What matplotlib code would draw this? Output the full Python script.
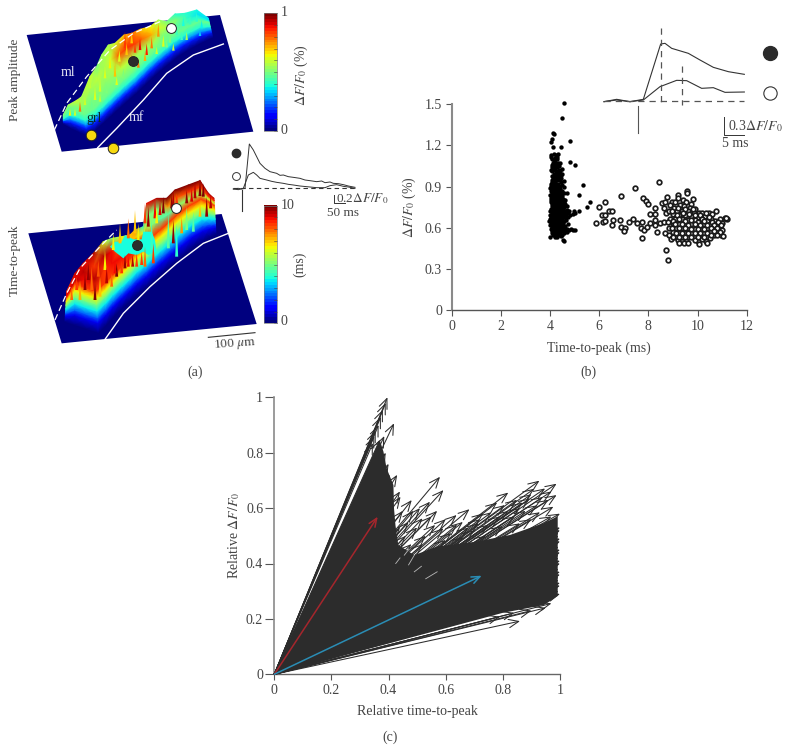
import numpy as np
import matplotlib
matplotlib.use("Agg")
import matplotlib.pyplot as plt

plt.rcParams['font.family'] = ['Liberation Serif', 'DejaVu Serif']
plt.rcParams['mathtext.fontset'] = 'stix'

TXT = '#444444'
DARK = '#2c2c2c'
W, H = 786, 751

# ---------- panel (a) top: peak amplitude (reference-crop coordinates) ----------
amp_plate_x = [80, 660, 760, 185]
amp_plate_y = [105, 45, 395, 455]
amp_front_x = [190, 215, 240, 262, 285, 310, 335, 360, 385, 410, 435, 460, 485, 510, 535, 560, 585, 610, 638]
amp_front_y = [372, 385, 397, 405, 390, 368, 345, 322, 300, 278, 254, 230, 208, 188, 168, 152, 138, 125, 112]
amp_back_x = [190, 205, 232, 245, 270, 290, 305, 325, 345, 372, 395, 420, 450, 475, 500, 525, 555, 590, 625]
amp_back_y = [345, 315, 300, 290, 230, 200, 165, 135, 130, 105, 100, 88, 80, 60, 65, 42, 40, 30, 55]
amp_near = [.45, .48, .50, .50, .50, .52, .52, .55, .58, .58, .55, .55, .55, .50, .50, .45, .42, .40, .38]
amp_mid = [.48, .50, .55, .55, .55, .58, .55, .60, .80, .86, .85, .80, .72, .60, .55, .50, .42, .35, .35]
amp_far = [.50, .55, .60, .55, .60, .50, .55, .55, .60, .70, .80, .70, .65, .55, .50, .40, .40, .38, .35]
amp_wall_val = [0, .15, .28, .40, .48]
amp_wall_off = [0, 20, 32, 45, 62]
amp_st_x = [210, 225, 240, 255, 270, 285, 300, 315, 330, 345, 358, 375, 380, 395, 405, 420, 440, 455, 475, 490, 510, 530, 550, 570, 590, 605, 560, 600,
            275, 300, 320, 350, 370, 395, 415, 435, 470, 500, 520, 545]
amp_st_y = [325, 325, 305, 290, 230, 260, 235, 200, 170, 190, 150, 95, 130, 95, 130, 115, 130, 110, 70, 105, 100, 70, 50, 45, 35, 60, 95, 90,
            300, 280, 255, 230, 205, 165, 175, 155, 140, 120, 130, 95]
amp_st_l = [22, 22, 30, 25, 35, 40, 40, 35, 35, 40, 35, 50, 35, 35, 28, 35, 35, 35, 40, 35, 28, 35, 28, 28, 30, 25, 25, 18,
            25, 25, 25, 25, 25, 30, 28, 28, 22, 22, 22, 25]
amp_st_v = [.65, .6, .78, .6, .58, .62, .6, .62, .65, .7, .62, .85, .7, .7, .85, .9, .88, .78, .75, .62, .5, .42, .38, .42, .4, .36, .55, .32,
            .48, .58, .5, .62, .5, .92, .78, .72, .6, .5, .58, .42]
amp_dash_x = [163, 200, 260, 330, 400, 480]
amp_dash_y = [390, 310, 230, 150, 100, 65]
amp_line_x = [293, 350, 430, 500, 580, 670]
amp_line_y = [443, 385, 300, 220, 165, 132]

# ---------- panel (a) bottom: time-to-peak ----------
ttp_plate_x = [85, 665, 770, 185]
ttp_plate_y = [280, 222, 552, 610]
ttp_front_x = [195, 225, 260, 295, 318, 340, 365, 390, 415, 440, 465, 490, 520, 550, 580, 610, 630, 648]
ttp_front_y = [545, 555, 567, 578, 555, 530, 505, 482, 460, 440, 418, 395, 370, 345, 320, 302, 290, 282]
ttp_back_x = [200, 225, 250, 280, 310, 335, 365, 390, 405, 430, 440, 470, 500, 525, 565, 600, 625, 642]
ttp_back_y = [455, 400, 370, 340, 305, 295, 290, 285, 270, 260, 190, 175, 175, 150, 135, 122, 160, 175]
ttp_near = [.90, .95, .90, .95, .85, .90, .90, .90, .90, .85, .55, .45, .45, .50, .55, .55, .60, .60]
ttp_mid = [.90, .90, .95, .85, .95, .90, .70, .70, .70, .60, .50, .50, .75, .80, .85, .85, .85, .85]
ttp_far = [.85, .95, .90, .95, .60, .50, .60, .70, .75, .40, .90, .95, 1.0, 1.0, 1.0, 1.0, .95, .95]
ttp_wall_val = [0, .10, .22, .36, .50, .65, .85]
ttp_wall_off = [0, 30, 45, 65, 85, 105, 125]
ttp_plateau_x = [330, 345, 365, 375, 400, 425, 430, 455, 465, 470, 445, 430, 410, 385, 370, 345]
ttp_plateau_y = [320, 305, 305, 285, 298, 298, 275, 275, 300, 335, 345, 335, 345, 340, 355, 335]
ttp_plateau_v = .38
ttp_st_x = [405, 385, 360, 415, 435, 465, 520, 600, 585, 340, 215, 240, 255, 275, 285, 300, 315, 320, 335, 350,
            445, 455, 470, 490, 505, 520, 530, 545, 560, 580, 600, 620, 560, 530, 410, 385, 365, 435, 460,
            230, 265, 295, 345, 375, 398, 425, 480, 515, 575, 610, 632]
ttp_st_y = [210, 235, 250, 250, 190, 175, 150, 118, 125, 280, 440, 420, 400, 380, 430, 410, 330, 380, 400, 370,
            200, 240, 200, 170, 215, 240, 250, 230, 200, 215, 190, 170, 150, 160, 340, 350, 360, 320, 310,
            410, 370, 360, 360, 345, 345, 335, 185, 165, 145, 130, 165]
ttp_st_l = [70, 60, 60, 60, 60, 60, 50, 50, 50, 50, 40, 60, 50, 70, 50, 60, 60, 50, 40, 40,
            60, 90, 50, 50, 110, 70, 100, 50, 70, 60, 40, 60, 40, 30, 40, 30, 40, 60, 60,
            40, 50, 50, 40, 40, 35, 40, 40, 40, 40, 40, 40]
ttp_st_v = [.7, .8, .7, .65, .85, .9, .95, 1.0, .95, .65, .8, .72, .98, .8, 1.0, .7, .65, .95, .8, 1.0,
            .98, .42, .65, 1.0, .45, .98, .4, .75, .5, .45, .7, .98, .98, .85, .85, .9, .85, .8, .85,
            .85, .98, .82, .9, .98, .95, .85, .92, .98, .92, 1.0, .95]
ttp_dash_x = [165, 200, 240, 300, 350]
ttp_dash_y = [540, 460, 385, 320, 270]
ttp_line_x = [315, 370, 450, 530, 610, 685]
ttp_line_y = [598, 520, 440, 370, 310, 280]

# ---------- panel (a) inset traces ----------
tr_big_x = [700, 715, 725, 735, 748, 760, 780, 795, 810, 830, 840, 850, 865, 880, 900, 915, 930, 950, 965, 975, 990, 1000, 1015, 1030, 1045, 1065]
tr_big_y = [147, 145, 147, 145, 12, 30, 70, 85, 95, 100, 106, 105, 110, 112, 115, 120, 122, 125, 123, 128, 126, 130, 131, 134, 138, 142]
tr_small_x = [700, 715, 730, 745, 760, 770, 780, 800, 815, 830, 850, 865, 880, 900, 920, 950, 975, 990, 1010, 1030, 1045, 1065]
tr_small_y = [147, 149, 145, 105, 97, 105, 115, 120, 124, 127, 130, 133, 135, 138, 140, 143, 143, 137, 134, 139, 141, 145]

# ---------- panel (b) inset traces ----------
ins_big_x = [612, 650, 690, 730, 782, 795, 815, 865, 900, 940, 985, 1033]
ins_big_y = [275, 268, 275, 268, 102, 100, 115, 130, 150, 172, 185, 193]
ins_small_x = [612, 650, 690, 730, 780, 830, 860, 905, 940, 975, 1033]
ins_small_y = [275, 270, 275, 270, 230, 211, 212, 235, 233, 247, 246]

# ---------- panel (b) scatter ----------
black_pts = [
 (4.58,1.512),(4.47,1.40),(4.13,1.293),(4.16,1.28),(4.07,1.245),(4.03,1.225),(4.8,1.23),(4.13,1.19),(4.43,1.19),
 (4.8,1.08),(5.02,1.056),(5.35,.91),(5.18,.838),(5.64,.785),(5.5,.748),(5.17,.72),(4.96,.725),(4.92,.70),(5.02,.71),
 (4.05,1.13),(4.15,1.14),(4.25,1.13),(4.32,1.135),(4.1,1.10),(4.2,1.11),(4.3,1.10),(4.12,1.07),(4.22,1.08),(4.32,1.07),(4.42,1.07),
 (4.08,1.04),(4.18,1.05),(4.28,1.04),(4.38,1.05),(4.48,1.03),(4.1,1.01),(4.2,1.02),(4.3,1.01),(4.4,1.01),(4.5,.99),
 (4.06,.98),(4.16,.99),(4.26,.98),(4.36,.98),(4.46,.96),(4.1,.95),(4.2,.96),(4.3,.95),(4.4,.95),(4.55,.94),
 (4.04,.92),(4.14,.93),(4.24,.92),(4.34,.92),(4.44,.93),(3.98,.89),(4.1,.90),(4.2,.89),(4.3,.89),(4.4,.89),(4.55,.90),
 (4.05,.87),(4.15,.86),(4.25,.86),(4.35,.86),(4.45,.86),(4.68,.85),(4.0,.84),(4.1,.83),(4.2,.83),(4.3,.83),(4.4,.83),(4.5,.83),
 (4.05,.80),(4.15,.80),(4.25,.80),(4.35,.80),(4.45,.80),(4.55,.79),(4.08,.77),(4.18,.77),(4.28,.77),(4.38,.77),(4.48,.77),(4.62,.77),
 (4.02,.74),(4.12,.74),(4.22,.74),(4.32,.74),(4.42,.74),(4.52,.74),(4.68,.73),(4.78,.72),(4.06,.71),(4.16,.71),(4.26,.71),(4.36,.71),(4.46,.71),(4.56,.71),(4.66,.70),
 (4.02,.68),(4.12,.68),(4.22,.68),(4.32,.68),(4.42,.68),(4.52,.68),(4.62,.68),(3.96,.65),(4.06,.65),(4.16,.65),(4.26,.65),(4.36,.65),(4.46,.65),(4.58,.65),
 (4.0,.62),(4.1,.62),(4.2,.62),(4.3,.62),(4.4,.62),(4.5,.62),(4.62,.61),(4.05,.59),(4.15,.59),(4.25,.59),(4.35,.59),(4.48,.59),(4.6,.585),(4.78,.585),(4.92,.58),(5.02,.58),
 (4.08,.56),(4.18,.56),(4.28,.56),(4.42,.56),(4.55,.56),(4.7,.57),(4.01,.535),(4.2,.535),(4.3,.53),(4.46,.54),(4.52,.51),(4.55,.50),
 (4.05,1.115),(4.17,1.095),(4.27,1.115),(4.07,1.06),(4.17,1.07),(4.27,1.06),(4.37,1.02),(4.05,1.02),(4.15,1.03),(4.25,1.0),(4.35,1.0),(4.45,.985),
 (4.12,.97),(4.22,.94),(4.32,.97),(4.42,.97),(4.08,.935),(4.18,.91),(4.28,.905),(4.38,.905),(4.48,.91),(4.02,.905),(4.12,.875),(4.22,.875),(4.32,.875),(4.42,.875),(4.5,.87),
 (4.06,.85),(4.16,.845),(4.26,.845),(4.36,.845),(4.46,.845),(4.55,.85),(4.02,.815),(4.12,.815),(4.22,.815),(4.32,.815),(4.42,.815),(4.52,.81),(4.62,.80),
 (4.02,.785),(4.12,.785),(4.22,.785),(4.32,.785),(4.42,.785),(4.52,.77),(4.07,.755),(4.17,.755),(4.27,.755),(4.37,.755),(4.47,.755),(4.57,.75),(4.7,.76),
 (4.0,.725),(4.1,.725),(4.2,.725),(4.3,.725),(4.4,.725),(4.5,.725),(4.6,.72),(4.72,.71),(4.82,.69),(3.98,.695),(4.08,.695),(4.18,.695),(4.28,.695),(4.38,.695),(4.48,.695),(4.58,.695),(4.72,.68),
 (4.0,.665),(4.1,.665),(4.2,.665),(4.3,.665),(4.4,.665),(4.5,.665),(4.65,.655),(4.02,.635),(4.12,.635),(4.22,.635),(4.32,.635),(4.42,.635),(4.54,.635),(4.72,.63),
 (4.06,.605),(4.16,.605),(4.26,.605),(4.36,.605),(4.46,.605),(4.56,.6),(4.1,.575),(4.2,.575),(4.3,.575),(4.4,.575),(4.52,.575),(4.68,.59),(4.85,.59),(4.12,.55),(4.24,.55),(4.36,.55),(4.5,.55),
]
open_pts = [
 (5.86,.632),(6.01,.754),(6.24,.785),(6.1,.693),(6.24,.695),(6.14,.644),(6.53,.62),(6.41,.722),(6.53,.722),(6.57,.656),(6.24,.651),(6.85,.656),(6.89,.834),
 (6.89,.603),(7.05,.596),(7.0,.578),(7.44,.888),(7.21,.639),(7.39,.661),(7.55,.632),(7.69,.6),(7.75,.644),(7.75,.528),(7.84,.584),(7.93,.608),(7.8,.815),(7.89,.797),(8.0,.773),
 (8.07,.70),(8.07,.632),(8.27,.746),(8.27,.70),(8.27,.656),(8.27,.62),(8.34,.566),(8.48,.632),(8.62,.644),(8.54,.778),(8.68,.79),(8.77,.821),(8.62,.741),(8.71,.705),(8.68,.56),(8.71,.438),(8.81,.365),(8.43,.931),
 (9.56,.87),(9.56,.85),(9.22,.84),(9.8,.81),(9.2,.815),(9.4,.80),(8.95,.79),(9.1,.785),(9.55,.785),(9.75,.775),(9.3,.765),(8.9,.765),(9.45,.755),(9.7,.745),(9.05,.745),(9.9,.74),
 (8.85,.725),(9.15,.72),(9.35,.72),(9.6,.72),(9.85,.71),(10.05,.71),(10.2,.71),(10.45,.71),(10.75,.72),(9.0,.70),(9.25,.69),(9.5,.69),(9.75,.685),(10.0,.68),(10.3,.685),(10.55,.665),
 (8.9,.665),(9.1,.665),(9.38,.66),(9.62,.655),(9.88,.655),(10.12,.65),(10.4,.65),(10.7,.65),(10.9,.665),(11.1,.67),(11.2,.66),(11.15,.67),(8.8,.64),(9.02,.635),(9.25,.63),(9.5,.625),(9.75,.625),(10.0,.62),(10.25,.625),(10.52,.625),(10.8,.63),(11.0,.635),
 (8.85,.60),(9.12,.60),(9.38,.595),(9.62,.595),(9.88,.59),(10.12,.59),(10.4,.595),(10.65,.60),(10.9,.605),(9.0,.57),(9.25,.565),(9.5,.565),(9.75,.56),(10.0,.56),(10.25,.565),(10.55,.57),(10.8,.575),(11.0,.585),
 (8.85,.545),(9.12,.535),(9.38,.535),(9.62,.535),(9.88,.53),(10.12,.535),(10.4,.53),(10.65,.545),(10.95,.55),(11.02,.54),(8.92,.515),(9.2,.51),(9.55,.505),(10.0,.505),(10.35,.505),(10.5,.525),
 (9.25,.49),(9.45,.485),(9.6,.485),(10.05,.48),(10.4,.49),(9.9,.51),(10.2,.515),
 (8.98,.725),(9.22,.745),(9.5,.74),(9.8,.735),(10.1,.69),(10.35,.71),(10.6,.70),(9.18,.69),(9.4,.705),(9.65,.70),(9.9,.69),(10.2,.665),(10.45,.68),(10.85,.645),
 (9.0,.65),(9.25,.66),(9.5,.65),(9.75,.655),(10.0,.645),(10.27,.65),(10.6,.64),(10.95,.62),(9.1,.625),(9.38,.63),(9.62,.62),(9.88,.625),(10.12,.62),(10.4,.62),(10.68,.62),
 (8.98,.60),(9.25,.595),(9.5,.60),(9.75,.59),(10.0,.59),(10.27,.59),(10.55,.60),(10.78,.60),(9.12,.565),(9.38,.565),(9.62,.56),(9.88,.56),(10.12,.56),(10.4,.565),(10.68,.575),(10.9,.57),
 (9.0,.535),(9.25,.535),(9.5,.53),(9.75,.53),(10.0,.53),(10.25,.535),(10.55,.545),(10.8,.55),
]

# ---------- panel (c) ----------
solid_x = [0, .369, .382, .393, .417, .419, .424, .434, .49, .568, .708, .825, .941, .992, .992, .992, .944, .80, 0]
solid_y = [0, .846, .804, .744, .683, .599, .539, .467, .43, .461, .479, .503, .545, .57, .533, .283, .25, .222, 0]
tip_pts = [
 (.396,1.0),(.373,.93),(.419,.906),(.355,.88),(.369,.846),(.39,.80),(.385,.86),(.40,.76),(.405,.72),(.415,.69),(.39,.98),(.38,.955),(.365,.90),(.35,.86),(.345,.835),
 (.58,.713),(.592,.665),(.481,.629),(.442,.641),(.545,.623),(.519,.563),(.487,.59),(.563,.539),(.683,.596),(.638,.575),(.819,.656),(.78,.62),
 (.928,.699),(.988,.688),(.948,.671),(.988,.647),(.977,.605),(.895,.635),(.807,.611),(.732,.581),(.592,.527),(.66,.55),(.715,.545),(.76,.585),(.86,.60),(.90,.65),(.96,.63),
 (.45,.59),(.47,.55),(.50,.53),(.53,.50),(.44,.53),(.46,.50),(.62,.51),(.70,.52),(.75,.54),(.84,.57),(.88,.59),(.92,.61),(1.0,.58),(.99,.55),
 (.51,.60),(.55,.57),(.57,.59),(.60,.56),(.64,.54),(.68,.53),(.72,.56),(.79,.57),(.82,.59),(.85,.63),(.87,.62),(.91,.67),(.94,.64),(.97,.66),(.93,.585),(.97,.57),(.90,.56),(.86,.545),(.80,.535),(.74,.50),(.66,.495),(.60,.485),(.52,.47),(.48,.47),
 (1.0,.53),(.995,.51),(1.0,.49),(.99,.47),(1.0,.45),(.995,.43),(1.0,.41),(.99,.39),(1.0,.37),(.995,.35),(1.0,.33),(.99,.31),(1.0,.29),
 (1.0,.52),(.995,.50),(1.0,.48),(.995,.46),(1.0,.44),(.995,.42),(1.0,.40),(.995,.38),(1.0,.36),(.995,.34),(1.0,.32),(.995,.30),
 (.97,.256),(.95,.24),(.86,.192),(.79,.208),(.90,.23),(.84,.222),(.43,.72),(.44,.66),
]
white_x0 = [.425, .455, .47, .49, .53]
white_y0 = [.40, .43, .395, .37, .345]
white_x1 = [.44, .47, .49, .515, .57]
white_y1 = [.42, .45, .43, .39, .37]
red_tip = (.362, .569)
blue_tip = (.726, .356)

# ---------- figure ----------
fig = plt.figure(figsize=(W/100, H/100), dpi=100)
fig.patch.set_facecolor('white')


def px_axes(x0, y0, x1, y1, **kw):
    return fig.add_axes([x0/W, 1 - y1/H, (x1-x0)/W, (y1-y0)/H], **kw)


def overlay(x0, y0, x1, y1):
    a = px_axes(x0, y0, x1, y1)
    a.set_xlim(0, (x1-x0)*3)
    a.set_ylim((y1-y0)*3, 0)
    a.axis('off')
    a.patch.set_alpha(0)
    return a


def ridge(a, fx, fy, bx, by, near, mid, far, wall_val, wall_off):
    fx, fy, bx, by = map(np.asarray, (fx, fy, bx, by))
    L = np.hypot(bx-fx, by-fy)
    ux, uy = (bx-fx)/L, (by-fy)/L
    wall_total = wall_off[-1]
    X, Y, C = [], [], []
    for i in range(len(fx)):
        k = min(1.0, .8*L[i]/wall_total)
        off = [o*k for o in wall_off]
        rem = L[i] - off[-1]
        off = off + [off[-1]+rem*.33, off[-1]+rem*.66, L[i]]
        X.append([fx[i]+ux[i]*o for o in off])
        Y.append([fy[i]+uy[i]*o for o in off])
        C.append(list(wall_val) + [near[i], mid[i], far[i]])
    a.pcolormesh(np.array(X), np.array(Y), np.array(C), shading='gouraud', cmap='jet', vmin=0, vmax=1, zorder=2)


def streaks(a, sx, sy, sl, sv, w=4):
    for x, y, l, v in zip(sx, sy, sl, sv):
        a.fill([x-w, x, x+w], [y+l, y, y+l], color=plt.cm.jet(v), lw=0, zorder=3)


def cbar(a, x0, x1, y0, y1):
    a.imshow(np.linspace(1, 0, 40)[:, None], extent=(x0, x1, y1, y0), cmap='jet', vmin=0, vmax=1,
             aspect='auto', zorder=2, interpolation='nearest')
    for f in np.arange(0, 1.01, .1):
        y = y1 + (y0-y1)*f
        a.plot([x1-9, x1], [y, y], color='#444444', lw=.4, zorder=3)
    a.plot([x0, x1, x1, x0, x0], [y0, y0, y1, y1, y0], color='#777777', lw=.5, zorder=3)


def dot(a, x, y, fc, r=58):
    a.scatter([x], [y], s=r, facecolor=fc, edgecolor='#222222', linewidth=.7, zorder=5)


ov1 = overlay(0, 0, 300, 190)
ov1.fill(amp_plate_x, amp_plate_y, color='#00007f', lw=0, zorder=1)
ridge(ov1, amp_front_x, amp_front_y, amp_back_x, amp_back_y, amp_near, amp_mid, amp_far,
      amp_wall_val, amp_wall_off)
streaks(ov1, amp_st_x, amp_st_y, amp_st_l, amp_st_v)
ov1.plot(amp_dash_x, amp_dash_y, color='white', lw=.9, ls=(0, (5, 3)), zorder=4)
ov1.plot(amp_line_x, amp_line_y, color='white', lw=1.0, zorder=4)
ov1.text(205, 218, 'ml', color='white', fontsize=10, ha='center', va='center', zorder=6, alpha=.9)
ov1.text(282, 355, 'grl', color='#0a2a20', fontsize=10, ha='center', va='center', zorder=6)
ov1.text(410, 352, 'mf', color='white', fontsize=10, ha='center', va='center', zorder=6, alpha=.9)
dot(ov1, 272, 405, '#f7d90f')
dot(ov1, 338, 443, '#f7d90f')
dot(ov1, 400, 182, '#2b2b2b', 50)
dot(ov1, 512, 83, 'white', 50)
cbar(ov1, 793, 832, 40, 393)
ov1.set_xlim(0, 900); ov1.set_ylim(570, 0)
ov1.text(852, 38, '1', color=TXT, fontsize=10, ha='center', va='center')
ov1.text(852, 392, '0', color=TXT, fontsize=10, ha='center', va='center')
ov1.text(45, 240, 'Peak amplitude', color=TXT, fontsize=9.5, rotation=90, ha='center', va='center')

ov2 = overlay(0, 140, 400, 390)
ov2.fill(ttp_plate_x, ttp_plate_y, color='#00007f', lw=0, zorder=1)
ridge(ov2, ttp_front_x, ttp_front_y, ttp_back_x, ttp_back_y, ttp_near, ttp_mid, ttp_far,
      ttp_wall_val, ttp_wall_off)
ov2.fill(ttp_plateau_x, ttp_plateau_y, color=plt.cm.jet(ttp_plateau_v), lw=0, zorder=2.5)
streaks(ov2, ttp_st_x, ttp_st_y, ttp_st_l, ttp_st_v, w=4.5)
ov2.plot(ttp_dash_x, ttp_dash_y, color='white', lw=.9, ls=(0, (5, 3)), zorder=4)
ov2.plot(ttp_line_x, ttp_line_y, color='white', lw=1.0, zorder=4)
dot(ov2, 412, 314, '#2b2b2b', 50)
dot(ov2, 527, 203, 'white', 50)
cbar(ov2, 793, 832, 197, 550)
ov2.set_xlim(0, 1200); ov2.set_ylim(750, 0)
ov2.text(862, 197, '10', color=TXT, fontsize=10, ha='center', va='center')
ov2.text(852, 545, '0', color=TXT, fontsize=10, ha='center', va='center')
ov2.text(45, 360, 'Time-to-peak', color=TXT, fontsize=9.5, rotation=90, ha='center', va='center')
ov2.text(900, 372, '(ms)', color=TXT, fontsize=10, rotation=90, ha='center', va='center')
ov2.text(585, 698, '(a)', color=TXT, fontsize=10, ha='center', va='center')
ov2.plot([625, 765], [592, 578], color='#333333', lw=.8)
ov2.text(705, 612, r'100 $\mu$m', color=TXT, fontsize=9.5, rotation=4, ha='center', va='center')
ov2.plot(tr_big_x, tr_big_y, color='#333333', lw=.7, zorder=3)
ov2.plot(tr_small_x, tr_small_y, color='#333333', lw=.7, zorder=3)
ov2.plot([700, 1065], [145, 145], color='#333333', lw=.8, ls=(0, (4, 3)), zorder=3)
ov2.plot([726, 726], [150, 212], color='#333333', lw=.8)
ov2.plot([1002, 1002, 1035], [165, 190, 190], color='#333333', lw=.7)
ov2.text(1008, 176, r'0.2$\Delta F/F_0$', color=TXT, fontsize=9.5, ha='left', va='center')
ov2.text(980, 218, '50 ms', color=TXT, fontsize=9.5, ha='left', va='center')
ov2.scatter([707], [40], s=36, color='#2b2b2b', zorder=5)
ov2.scatter([707], [107], s=32, facecolor='white', edgecolor='#333333', linewidth=.7, zorder=5)
ov1.text(905, 225, r'$\Delta F/F_0$ (%)', color=TXT, fontsize=10, rotation=90, ha='center', va='center', clip_on=False)

# panel (b)
axb = px_axes(451.7, 104.3, 746.7, 310)
axb.set_xlim(0, 12)
axb.set_ylim(0, 1.5)
axb.patch.set_alpha(0)
for s in ('top', 'right'):
    axb.spines[s].set_visible(False)
axb.spines['left'].set_color('#8a8a8a')
axb.spines['left'].set_linewidth(1.5)
axb.spines['bottom'].set_color('#555555')
axb.spines['bottom'].set_linewidth(1.0)
axb.set_xticks([0, 2, 4, 6, 8, 10, 12])
axb.set_xticklabels(['0', '2', '4', '6', '8', '10', '12'])
axb.set_yticks([0, .3, .6, .9, 1.2, 1.5])
axb.set_yticklabels(['0', '0.3', '0.6', '0.9', '1.2', '1.5'])
axb.tick_params(length=4, width=.8, color='#555555', labelsize=10, labelcolor=TXT, pad=3)
bt, ba = zip(*black_pts)
ot, oa = zip(*open_pts)
axb.scatter(ot, oa, s=11, facecolor='white', edgecolor='#1a1a1a', linewidth=1.25, clip_on=False, zorder=3)
axb.scatter(bt, ba, s=10, color='black', linewidth=0, clip_on=False, zorder=4)
axb.set_xlabel('Time-to-peak (ms)', fontsize=10, color=TXT, labelpad=6)
axb.set_ylabel(r'$\Delta F/F_0$ (%)', fontsize=10, color=TXT, labelpad=5)

ov3 = overlay(400, 10, 786, 210)
ov3.plot(ins_big_x, ins_big_y, color='#333333', lw=.8)
ov3.plot(ins_small_x, ins_small_y, color='#333333', lw=.8)
ov3.plot([612, 1033], [272, 272], color='#555555', lw=.9, ls=(0, (5, 4)))
ov3.plot([782, 782], [55, 285], color='#555555', lw=.9, ls=(0, (5, 4)))
ov3.plot([845, 845], [168, 285], color='#555555', lw=.9, ls=(0, (5, 4)))
ov3.plot([714, 714], [288, 368], color='#555555', lw=.8)
ov3.plot([973, 973, 1033], [322, 375, 375], color='#333333', lw=.7)
ov3.text(983, 347, r'0.3$\Delta F/F_0$', color=TXT, fontsize=10, ha='left', va='center')
ov3.text(966, 400, '5 ms', color=TXT, fontsize=10, ha='left', va='center')
ov3.scatter([1110], [130], s=100, color='#2b2b2b', zorder=5)
ov3.scatter([1110], [248], s=92, facecolor='white', edgecolor='#333333', linewidth=.8, zorder=5)
fig.text(588/W, 1-372/H, '(b)', color=TXT, fontsize=10, ha='center', va='center')

# panel (c)
axc = px_axes(274.3, 397.3, 560, 674.3)
axc.set_xlim(0, 1)
axc.set_ylim(0, 1)
axc.patch.set_alpha(0)
for s in ('top', 'right'):
    axc.spines[s].set_visible(False)
axc.spines['left'].set_color('#8a8a8a')
axc.spines['left'].set_linewidth(1.2)
axc.spines['bottom'].set_color('#666666')
axc.spines['bottom'].set_linewidth(1.0)
cticks = [0, .2, .4, .6, .8, 1]
clabels = ['0', '0.2', '0.4', '0.6', '0.8', '1']
axc.set_xticks(cticks); axc.set_xticklabels(clabels)
axc.set_yticks(cticks); axc.set_yticklabels(clabels)
axc.tick_params(axis='x', length=4, width=.8, color='#555555', labelsize=10, labelcolor=TXT, pad=3)
axc.tick_params(axis='y', length=6.5, width=.8, color='#555555', labelsize=10, labelcolor=TXT, pad=1.5)
axc.set_xlabel('Relative time-to-peak', fontsize=10, color=TXT, labelpad=6)
axc.set_ylabel(r'Relative $\Delta F/F_0$', fontsize=10, color=TXT, labelpad=3)
axc.fill(solid_x, solid_y, color=DARK, lw=0, zorder=2)
for tx, ty in tip_pts:
    axc.annotate('', xy=(tx, ty), xytext=(0, 0), zorder=3, annotation_clip=False,
                 arrowprops=dict(arrowstyle='->,head_length=0.72,head_width=0.3', mutation_scale=10,
                                 color=DARK, lw=.75, shrinkA=0, shrinkB=0))
for x0, y0, x1, y1 in zip(white_x0, white_y0, white_x1, white_y1):
    axc.plot([x0, x1], [y0, y1], color='#bbbbbb', lw=.6, zorder=4)
axc.annotate('', xy=red_tip, xytext=(0, 0), zorder=6,
             arrowprops=dict(arrowstyle='->,head_length=0.6,head_width=0.25', mutation_scale=10,
                             color='#a5262c', lw=1.1, shrinkA=0, shrinkB=0))
axc.annotate('', xy=blue_tip, xytext=(0, 0), zorder=6,
             arrowprops=dict(arrowstyle='->,head_length=0.6,head_width=0.25', mutation_scale=10,
                             color='#2a8db5', lw=1.1, shrinkA=0, shrinkB=0))
fig.text(390/W, 1-737/H, '(c)', color=TXT, fontsize=10, ha='center', va='center')

fig.savefig('out.png', dpi=100, facecolor='white')
